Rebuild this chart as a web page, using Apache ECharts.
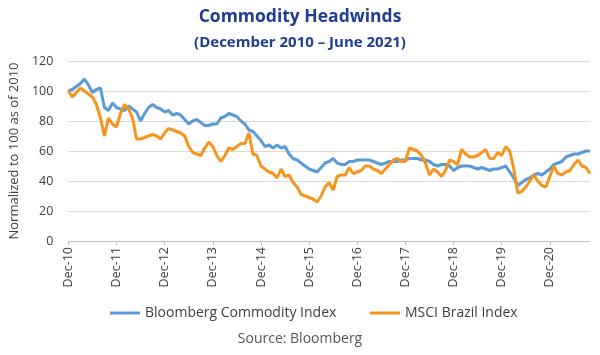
<!DOCTYPE html>
<html>
<head>
<meta charset="utf-8">
<script src="https://cdn.jsdelivr.net/npm/echarts@6/dist/echarts.min.js"></script>
<style>
html,body{margin:0;padding:0;background:#fff;}
#c{width:600px;height:355px;}
</style>
</head>
<body>
<div id="c"></div>
<script>
// Monthly observations, Dec-2010 onward
var startYear = 2010, startMonth = 11, monthCount = 131;
var monthNames = ['Jan','Feb','Mar','Apr','May','Jun','Jul','Aug','Sep','Oct','Nov','Dec'];

var bloombergCommodity = [
100,101,103,105,108,104,99,101,102,89,87,92,
89,88,87,90,88,86,80,85,89,91,89,88,
86,87,84,85,84,81,78,80,81,79,77,77,
78,78,82,83,85,84,83,80,78,74,73,70,
67,63,64,62,64,62,63,58,55,54,52,50,
48,47,46,49,52,53,55,52,51,51,53,53,
54,54,54,54,53,52,51,52,53,53,53,54,
54,55,55,55,54,54,53,51,50,51,51,50,
47,49,50,50,50,49,48,49,48,47,48,48,
49,50,46,42,37,39,41,42,44,45,44,46,
48,51,52,53,56,57,58,58,59,60,60
];

var msciBrazil = [
100,96,99,102,100,98,96,91,82,70,82,78,
76,85,91,88,82,68,68,69,70,71,70,68,
72,75,74,73,72,70,63,59,58,57,62,66,
63,57,53,57,62,61,63,65,65,72,58,57,
50,48,46,45,42,48,43,44,39,36,31,30,
29,28,26,30,36,39,34,43,44,44,49,45,
46,47,50,50,48,47,45,48,51,54,55,53,
53,62,61,60,57,52,44,48,46,43,47,54,
53,51,61,58,56,56,57,59,61,55,55,59,
57,63,60,48,32,33,36,40,44,40,37,36,
43,50,45,44,46,47,51,54,50,49,45
];

var yTicks = {min: 0, max: 120, interval: 20};
var seriesNames = ['Bloomberg Commodity Index', 'MSCI Brazil Index'];

var categories = [];
for (var i = 0; i < monthCount; i++) {
  var mi = (startMonth + i) % 12;
  var yr = startYear + Math.floor((startMonth + i) / 12);
  categories.push(monthNames[mi] + '-' + String(yr).slice(2));
}

var font = '"Open Sans", "Noto Sans", sans-serif';
var legendText = {fontFamily: font, fontSize: 14, color: '#404040'};
var chart = echarts.init(document.getElementById('c'), null, {renderer: 'canvas'});
chart.setOption({
  animation: false,
  backgroundColor: '#ffffff',
  title: [
    {text: 'Commodity Headwinds', left: 'center', top: 3,
     textStyle: {fontFamily: font, fontSize: 17.5, fontWeight: 'bold', color: '#1f3e93'}},
    {text: '(December 2010 \u2013 June 2021)', left: 'center', top: 30,
     textStyle: {fontFamily: font, fontSize: 15, fontWeight: 'bold', color: '#1f3e93'}},
    {text: 'Source: Bloomberg', left: 'center', top: 327,
     textStyle: {fontFamily: font, fontSize: 14, fontWeight: 'normal', color: '#555555'}}
  ],
  legend: [
    {left: 105, top: 301, icon: 'rect', itemWidth: 30, itemHeight: 3,
     textStyle: legendText, data: [seriesNames[0]]},
    {left: 365, top: 301, icon: 'rect', itemWidth: 30, itemHeight: 3,
     textStyle: legendText, data: [seriesNames[1]]}
  ],
  grid: {left: 66, right: 10, top: 61, bottom: 114},
  xAxis: {
    type: 'category',
    data: categories,
    boundaryGap: false,
    axisLine: {lineStyle: {color: '#bfbfbf', width: 1}},
    axisTick: {show: true, interval: 11, length: 4, lineStyle: {color: '#bfbfbf'}},
    axisLabel: {interval: 11, rotate: 90, fontFamily: font, fontSize: 12.5, color: '#404040', margin: 6}
  },
  yAxis: {
    type: 'value',
    min: yTicks.min, max: yTicks.max, interval: yTicks.interval,
    name: 'Normalized to 100 as of 2010',
    nameLocation: 'middle', nameGap: 44, nameRotate: 90,
    nameTextStyle: {fontFamily: font, fontSize: 13, color: '#404040'},
    axisLine: {show: false},
    axisTick: {show: false},
    axisLabel: {fontFamily: font, fontSize: 12.5, color: '#404040', margin: 15},
    splitLine: {lineStyle: {color: '#d9d9d9', width: 1}}
  },
  series: [
    {name: seriesNames[0], type: 'line', data: bloombergCommodity,
     showSymbol: false, symbol: 'none', color: '#5b9bd5',
     lineStyle: {width: 3, color: '#5b9bd5'}},
    {name: seriesNames[1], type: 'line', data: msciBrazil,
     showSymbol: false, symbol: 'none', color: '#f7941d',
     lineStyle: {width: 3, color: '#f7941d'}}
  ]
});
</script>
</body>
</html>
